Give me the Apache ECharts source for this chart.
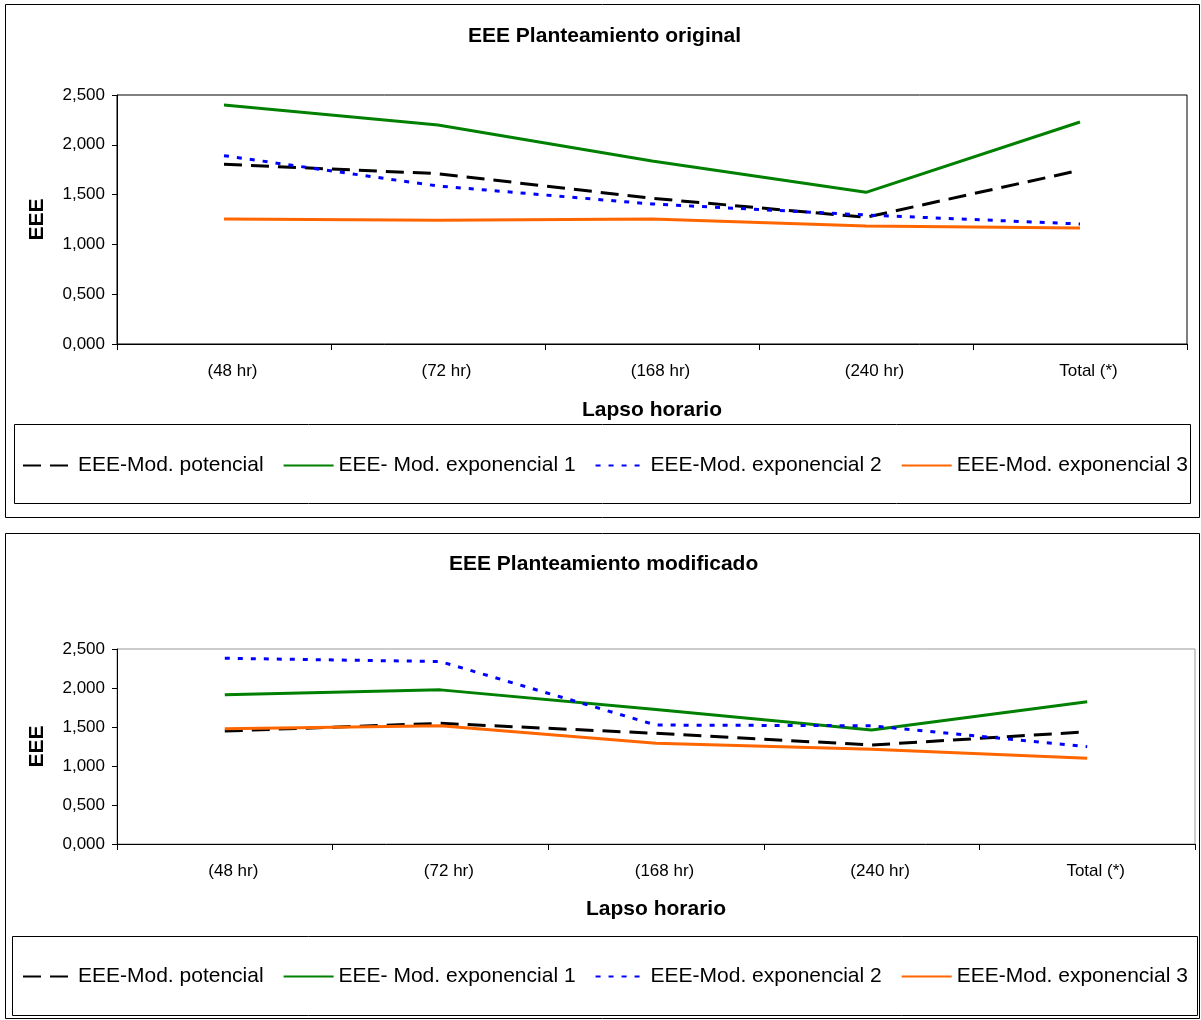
<!DOCTYPE html>
<html><head><meta charset="utf-8">
<script src="https://cdn.jsdelivr.net/npm/echarts@6/dist/echarts.min.js"></script>
<style>html,body{margin:0;padding:0;background:#fff}#c{width:1201px;height:1020px}</style>
</head><body><div id="c"></div>
<script>
const categories = ['(48 hr)', '(72 hr)', '(168 hr)', '(240 hr)', 'Total (*)'];
const seriesNames = ['EEE-Mod. potencial', 'EEE- Mod. exponencial 1', 'EEE-Mod. exponencial 2', 'EEE-Mod. exponencial 3'];
// Panel 1: EEE Planteamiento original
const origPotencial = [1.804, 1.710, 1.463, 1.272, 1.745];
const origExp1 = [2.400, 2.199, 1.837, 1.523, 2.229];
const origExp2 = [1.891, 1.586, 1.406, 1.295, 1.205];
const origExp3 = [1.255, 1.242, 1.255, 1.185, 1.165];
// Panel 2: EEE Planteamiento modificado
const modPotencial = [1.448, 1.547, 1.419, 1.269, 1.439];
const modExp1 = [1.912, 1.976, 1.725, 1.461, 1.823];
const modExp2 = [2.381, 2.339, 1.525, 1.516, 1.248];
const modExp3 = [1.478, 1.516, 1.291, 1.214, 1.099];
const yTicks = [0, 0.5, 1, 1.5, 2, 2.5];

const FONT = '"Liberation Sans", Arial, sans-serif';
const colors = ['#000000', '#008000', '#0000FF', '#FF6600'];
const dashes = [[18, 9], 'solid', [5, 8], 'solid'];

const chart = echarts.init(document.getElementById('c'), null, {renderer: 'canvas'});
const fmt = v => v.toFixed(3).replace('.', ',');

function grid(top, height, right, borderColor) {
  return {left: 117, right: right, top: top, height: height, show: true, borderColor: borderColor, borderWidth: 1, backgroundColor: 'transparent'};
}
function xAxis(gi, gap) {
  return {
    type: 'category', gridIndex: gi, data: categories, boundaryGap: true,
    axisLine: {lineStyle: {color: '#000', width: 1}},
    axisTick: {show: true, length: 6, lineStyle: {color: '#000'}},
    axisLabel: {fontFamily: FONT, fontSize: 17, color: '#000', margin: 19, padding: [0, 0, 0, 17]},
    name: 'Lapso horario', nameLocation: 'middle', nameGap: gap,
    nameTextStyle: {fontFamily: FONT, fontSize: 21, fontWeight: 'bold', color: '#000'}
  };
}
function yAxis(gi) {
  return {
    type: 'value', gridIndex: gi, min: 0, max: 2.5, interval: 0.5,
    axisLine: {show: true, lineStyle: {color: '#000', width: 1}},
    axisTick: {show: true, length: 5, lineStyle: {color: '#000'}},
    splitLine: {show: false},
    axisLabel: {fontFamily: FONT, fontSize: 17, color: '#000', margin: 12, formatter: v => fmt(v)},
    name: 'EEE', nameLocation: 'middle', nameGap: 69,
    nameTextStyle: {fontFamily: FONT, fontSize: 21, fontWeight: 'bold', color: '#000'}
  };
}
function mk(name, data, i, gi) {
  return {
    type: 'line', name: name, data: data, xAxisIndex: gi, yAxisIndex: gi,
    symbol: 'none', smooth: false, animation: false,
    lineStyle: {color: colors[i], width: 3, type: dashes[i]},
    itemStyle: {color: colors[i]}
  };
}
function legend(top, left) {
  return {
    top: top, left: left, padding: 0, itemWidth: 50, itemHeight: 14, itemGap: 19, itemTextGap: 6,
    selectedMode: false,
    itemStyle: {opacity: 0},
    textStyle: {fontFamily: FONT, fontSize: 21, color: '#000'},
    data: seriesNames
  };
}

const option = {
  backgroundColor: '#fff',
  animation: false,
  title: [
    {text: 'EEE Planteamiento original', left: 468, top: 26, padding: 0,
     textStyle: {fontFamily: FONT, fontSize: 21, fontWeight: 'bold', color: '#000'}},
    {text: 'EEE Planteamiento modificado', left: 449, top: 554, padding: 0,
     textStyle: {fontFamily: FONT, fontSize: 21, fontWeight: 'bold', color: '#000'}}
  ],
  legend: [legend(455, 22), legend(966, 22)],
  grid: [grid(95, 249, 14, '#000'), grid(649, 195, 6, '#999')],
  xAxis: [xAxis(0, 56), xAxis(1, 55)],
  yAxis: [yAxis(0), yAxis(1)],
  series: [
    mk(seriesNames[0], origPotencial, 0, 0),
    mk(seriesNames[1], origExp1, 1, 0),
    mk(seriesNames[2], origExp2, 2, 0),
    mk(seriesNames[3], origExp3, 3, 0),
    mk(seriesNames[0], modPotencial, 0, 1),
    mk(seriesNames[1], modExp1, 1, 1),
    mk(seriesNames[2], modExp2, 2, 1),
    mk(seriesNames[3], modExp3, 3, 1)
  ],
  graphic: [
    {type: 'rect', silent: true, z: -1, shape: {x: 5.5, y: 4.5, width: 1194, height: 513}, style: {fill: null, stroke: '#000', lineWidth: 1}},
    {type: 'rect', silent: true, z: -1, shape: {x: 14.5, y: 424.5, width: 1176, height: 79}, style: {fill: null, stroke: '#000', lineWidth: 1}},
    {type: 'rect', silent: true, z: -1, shape: {x: 5.5, y: 533.5, width: 1194, height: 485}, style: {fill: null, stroke: '#000', lineWidth: 1}},
    {type: 'rect', silent: true, z: -1, shape: {x: 12.5, y: 936.5, width: 1185, height: 79}, style: {fill: null, stroke: '#000', lineWidth: 1}}
  ]
};
chart.setOption(option);
</script></body></html>
